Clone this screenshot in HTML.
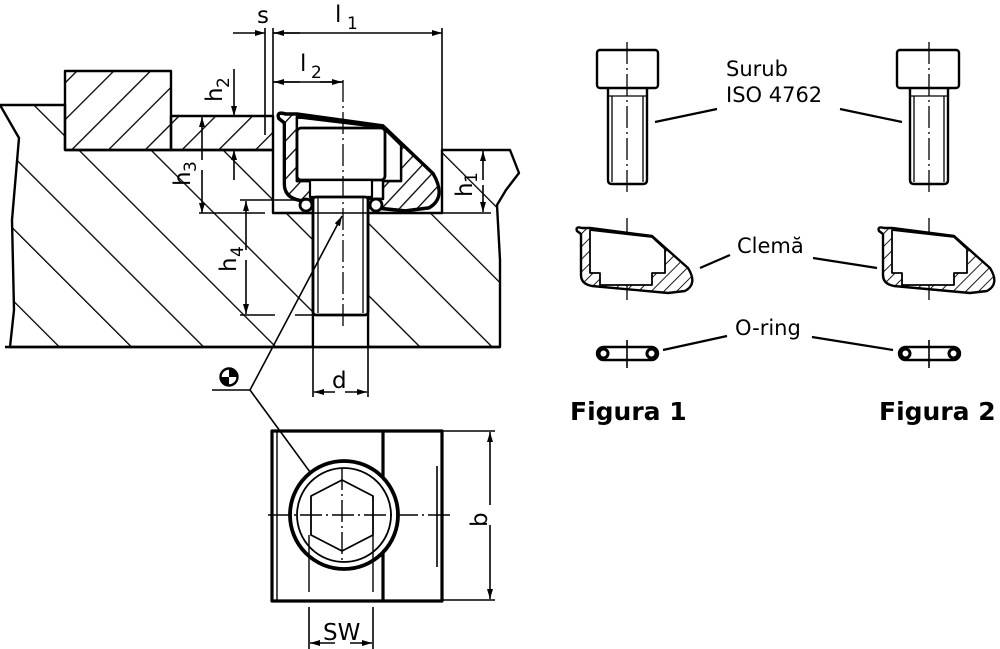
<!DOCTYPE html>
<html><head><meta charset="utf-8"><style>
html,body{margin:0;padding:0;background:#fff}
svg{display:block}
text{font-family:"DejaVu Sans","Liberation Sans",sans-serif;fill:#000}
</style></head><body>
<svg width="1000" height="649" viewBox="0 0 1000 649" xmlns="http://www.w3.org/2000/svg">
<defs>
<pattern id="hb" patternUnits="userSpaceOnUse" width="51" height="51" patternTransform="rotate(-45)"><line x1="0" y1="0" x2="0" y2="51" stroke="#000" stroke-width="2.6"/></pattern>
<pattern id="hf" patternUnits="userSpaceOnUse" width="26" height="26" patternTransform="rotate(45)"><line x1="0" y1="0" x2="0" y2="26" stroke="#000" stroke-width="2.6"/></pattern>
<pattern id="hc" patternUnits="userSpaceOnUse" width="9" height="9" patternTransform="rotate(45)"><line x1="0" y1="0" x2="0" y2="9" stroke="#000" stroke-width="1.8"/></pattern>
<marker id="ar" viewBox="0 0 10 6" refX="10" refY="3" markerWidth="10" markerHeight="6" markerUnits="userSpaceOnUse" orient="auto"><path d="M0,0 L10,3 L0,6 Z" fill="#000"/></marker>
<g id="clamp">
<path d="M577,231 Q575,226 582,228 L590,228 L652,236 L688,268 Q698,284 685,291 L668,293 L592,286 Q581,284 581,275 L581,234 Z" fill="url(#hc)" stroke="#000" stroke-width="2.4"/>
<path d="M590,230 L652,237 L665,249 L665,273 L652,273 L652,285 L600,285 L600,273 L590,273 Z" fill="#fff" stroke="#000" stroke-width="1.8"/>
</g>
</defs>
<g fill="none" stroke="#000" stroke-linejoin="round">
<path d="M0,105 L65,105 L65,150 L273,150 L273,213 L313,213 L313,347 L368,347 L368,213 L442,213 L442,150 L510,150 L519,173 L506,190 L497,205 L500,260 L500,347 L10,347 L14,310 L12,220 L19,138 Z" fill="url(#hb)" stroke-width="2.4"/>
<rect x="65" y="71" width="106" height="79" fill="url(#hf)" stroke-width="2.4"/>
<path d="M171,116 L273,116 L273,150 L171,150 Z" fill="url(#hf)" stroke-width="2.4"/>
<rect x="313" y="213" width="55" height="134" fill="#fff" stroke="none"/>
<line x1="313" y1="213" x2="313" y2="347" stroke-width="2.2"/>
<line x1="368" y1="213" x2="368" y2="347" stroke-width="2.2"/>
<line x1="5" y1="347" x2="500" y2="347" stroke-width="2.4"/>
<use href="#clamp" transform="translate(276,114) scale(1.39,1.49) translate(-575,-228)"/>
<rect x="297" y="128" width="88" height="52" rx="4" fill="#fff" stroke-width="2.8"/>
<rect x="310" y="180" width="62" height="17" fill="#fff" stroke-width="2.2"/>
<rect x="313" y="197" width="55" height="118" rx="3" fill="#fff" stroke-width="2.8"/>
<line x1="318" y1="197" x2="318" y2="313" stroke-width="1.3"/>
<line x1="363" y1="197" x2="363" y2="313" stroke-width="1.3"/>
<circle cx="306" cy="205" r="6" fill="#fff" stroke-width="2.8"/>
<circle cx="376" cy="205" r="6" fill="#fff" stroke-width="2.8"/>
<line x1="343" y1="80" x2="343" y2="330" stroke-width="1.3" stroke-dasharray="22,4,2,4"/>
<g stroke-width="1.6">
<line x1="265" y1="28" x2="265" y2="135"/><line x1="273" y1="28" x2="273" y2="116"/>
<line x1="442" y1="28" x2="442" y2="150"/>
<line x1="233" y1="33" x2="265" y2="33" marker-end="url(#ar)"/>
<line x1="273" y1="33" x2="442" y2="33" marker-end="url(#ar)"/>
<line x1="300" y1="33" x2="274" y2="33" marker-end="url(#ar)"/>
<line x1="273" y1="82" x2="343" y2="82"/>
<line x1="300" y1="82" x2="274" y2="82" marker-end="url(#ar)"/><line x1="320" y1="82" x2="342" y2="82" marker-end="url(#ar)"/>
<line x1="234" y1="69" x2="234" y2="116" marker-end="url(#ar)"/><line x1="234" y1="180" x2="234" y2="150" marker-end="url(#ar)"/>
<line x1="202" y1="160" x2="202" y2="117" marker-end="url(#ar)"/><line x1="202" y1="170" x2="202" y2="213" marker-end="url(#ar)"/>
<line x1="199" y1="213" x2="265" y2="213"/><line x1="280" y1="213" x2="491" y2="213"/>
<line x1="240" y1="200" x2="313" y2="200"/><line x1="240" y1="315" x2="275" y2="315"/><line x1="295" y1="315" x2="313" y2="315"/>
<line x1="246" y1="250" x2="246" y2="201" marker-end="url(#ar)"/><line x1="246" y1="260" x2="246" y2="314" marker-end="url(#ar)"/>
<line x1="483" y1="180" x2="483" y2="151" marker-end="url(#ar)"/><line x1="483" y1="185" x2="483" y2="212" marker-end="url(#ar)"/>
<line x1="313" y1="347" x2="313" y2="397"/><line x1="368" y1="347" x2="368" y2="397"/>
<line x1="335" y1="392" x2="314" y2="392" marker-end="url(#ar)"/><line x1="345" y1="392" x2="367" y2="392" marker-end="url(#ar)"/>
<line x1="212" y1="390" x2="250" y2="390"/>
<line x1="250" y1="390" x2="342" y2="216" marker-end="url(#ar)"/>
<line x1="250" y1="390" x2="340" y2="513" marker-end="url(#ar)"/>
</g>
<circle cx="229" cy="377" r="8.5" stroke-width="2.4"/>
<path d="M229,368.5 A8.5,8.5 0 0 1 237.5,377 L229,377 Z M229,377 L220.5,377 A8.5,8.5 0 0 0 229,385.5 Z" fill="#000" stroke="none"/>
<rect x="272" y="431" width="170" height="170" stroke-width="3.2"/>
<line x1="277" y1="431" x2="277" y2="601" stroke-width="1.4"/>
<line x1="383" y1="431" x2="383" y2="601" stroke-width="3.2"/>
<line x1="437" y1="466" x2="437" y2="567" stroke-width="1.6"/>
<circle cx="344" cy="515" r="54" fill="#fff" stroke-width="3.8"/>
<circle cx="344" cy="515" r="47" stroke-width="1.8"/>
<path d="M342,480 L373,496 L373,535 L342,551 L311,535 L311,496 Z" stroke-width="1.8"/>
<line x1="309" y1="535" x2="309" y2="592" stroke-width="1.4"/><line x1="373" y1="535" x2="373" y2="592" stroke-width="1.4"/>
<line x1="268" y1="515" x2="452" y2="515" stroke-width="1.4" stroke-dasharray="22,4,2,4"/>
<line x1="342" y1="468" x2="342" y2="562" stroke-width="1.4" stroke-dasharray="22,4,2,4"/>
<g stroke-width="1.6">
<line x1="442" y1="431" x2="495" y2="431"/><line x1="442" y1="600" x2="495" y2="600"/>
<line x1="490" y1="505" x2="490" y2="432" marker-end="url(#ar)"/><line x1="490" y1="525" x2="490" y2="599" marker-end="url(#ar)"/>
<line x1="309" y1="607" x2="309" y2="649"/><line x1="373" y1="607" x2="373" y2="649"/>
<line x1="335" y1="643" x2="310" y2="643" marker-end="url(#ar)"/><line x1="350" y1="643" x2="372" y2="643" marker-end="url(#ar)"/>
</g>
<g stroke-width="2.4">
<rect x="597" y="50" width="61" height="38" rx="3"/>
<path d="M608,88 L608,180 Q608,184 612,184 L643,184 Q647,184 647,180 L647,88"/>
<line x1="612" y1="96" x2="612" y2="182" stroke-width="1.3"/><line x1="643" y1="96" x2="643" y2="182" stroke-width="1.3"/>
<line x1="608" y1="96" x2="647" y2="96" stroke-width="1.3"/>
<rect x="897" y="50" width="62" height="38" rx="3"/>
<path d="M910,88 L910,180 Q910,184 914,184 L944,184 Q948,184 948,180 L948,88"/>
<line x1="914" y1="96" x2="914" y2="182" stroke-width="1.3"/><line x1="944" y1="96" x2="944" y2="182" stroke-width="1.3"/>
<line x1="910" y1="96" x2="948" y2="96" stroke-width="1.3"/>
</g>
<g stroke-width="1.3" stroke-dasharray="22,4,2,4">
<line x1="627" y1="42" x2="627" y2="195"/><line x1="929" y1="42" x2="929" y2="195"/>
<line x1="627" y1="218" x2="627" y2="300"/><line x1="929" y1="218" x2="929" y2="300"/>
</g>
<use href="#clamp"/>
<use href="#clamp" transform="translate(302,0)"/>
<g stroke-width="2.4">
<rect x="597" y="347" width="61" height="13" rx="6.5"/>
<circle cx="603.5" cy="353.5" r="4.5" stroke-width="3"/><circle cx="651.5" cy="353.5" r="4.5" stroke-width="3"/>
<rect x="899" y="347" width="61" height="13" rx="6.5"/>
<circle cx="905.5" cy="353.5" r="4.5" stroke-width="3"/><circle cx="953.5" cy="353.5" r="4.5" stroke-width="3"/>
</g>
<line x1="627" y1="340" x2="627" y2="368" stroke-width="1.6"/><line x1="929" y1="340" x2="929" y2="368" stroke-width="1.6"/>
<g stroke-width="2.2">
<line x1="655" y1="122" x2="717" y2="109"/><line x1="840" y1="109" x2="902" y2="122"/>
<line x1="700" y1="268" x2="730" y2="255"/><line x1="813" y1="258" x2="877" y2="268"/>
<line x1="663" y1="350" x2="727" y2="336"/><line x1="812" y1="337" x2="893" y2="350"/>
</g>
</g>
<g font-size="23">
<text x="257" y="23">s</text>
<text x="335" y="22">l</text><text x="347" y="29" font-size="17">1</text>
<text x="300" y="71">l</text><text x="311" y="78" font-size="17">2</text>
<text transform="translate(222,102) rotate(-90)">h</text><text transform="translate(229,88) rotate(-90)" font-size="17">2</text>
<text transform="translate(190,186) rotate(-90)">h</text><text transform="translate(196,172) rotate(-90)" font-size="17">3</text>
<text transform="translate(236,272) rotate(-90)">h</text><text transform="translate(243,257) rotate(-90)" font-size="17">4</text>
<text transform="translate(472,197) rotate(-90)">h</text><text transform="translate(477,183) rotate(-90)" font-size="17">1</text>
<text x="332" y="388">d</text>
<text transform="translate(487,527) rotate(-90)">b</text>
<text x="323" y="640">SW</text>
</g>
<g font-size="21" style="font-family:'Liberation Sans',sans-serif">
<text x="726" y="76">Surub</text>
<text x="726" y="102">ISO 4762</text>
<text x="737" y="253">Clemă</text>
<text x="735" y="335">O-ring</text>
</g>
<g font-size="25" font-weight="bold">
<text x="570" y="420">Figura 1</text>
<text x="879" y="420">Figura 2</text>
</g>
</svg>
</body></html>
